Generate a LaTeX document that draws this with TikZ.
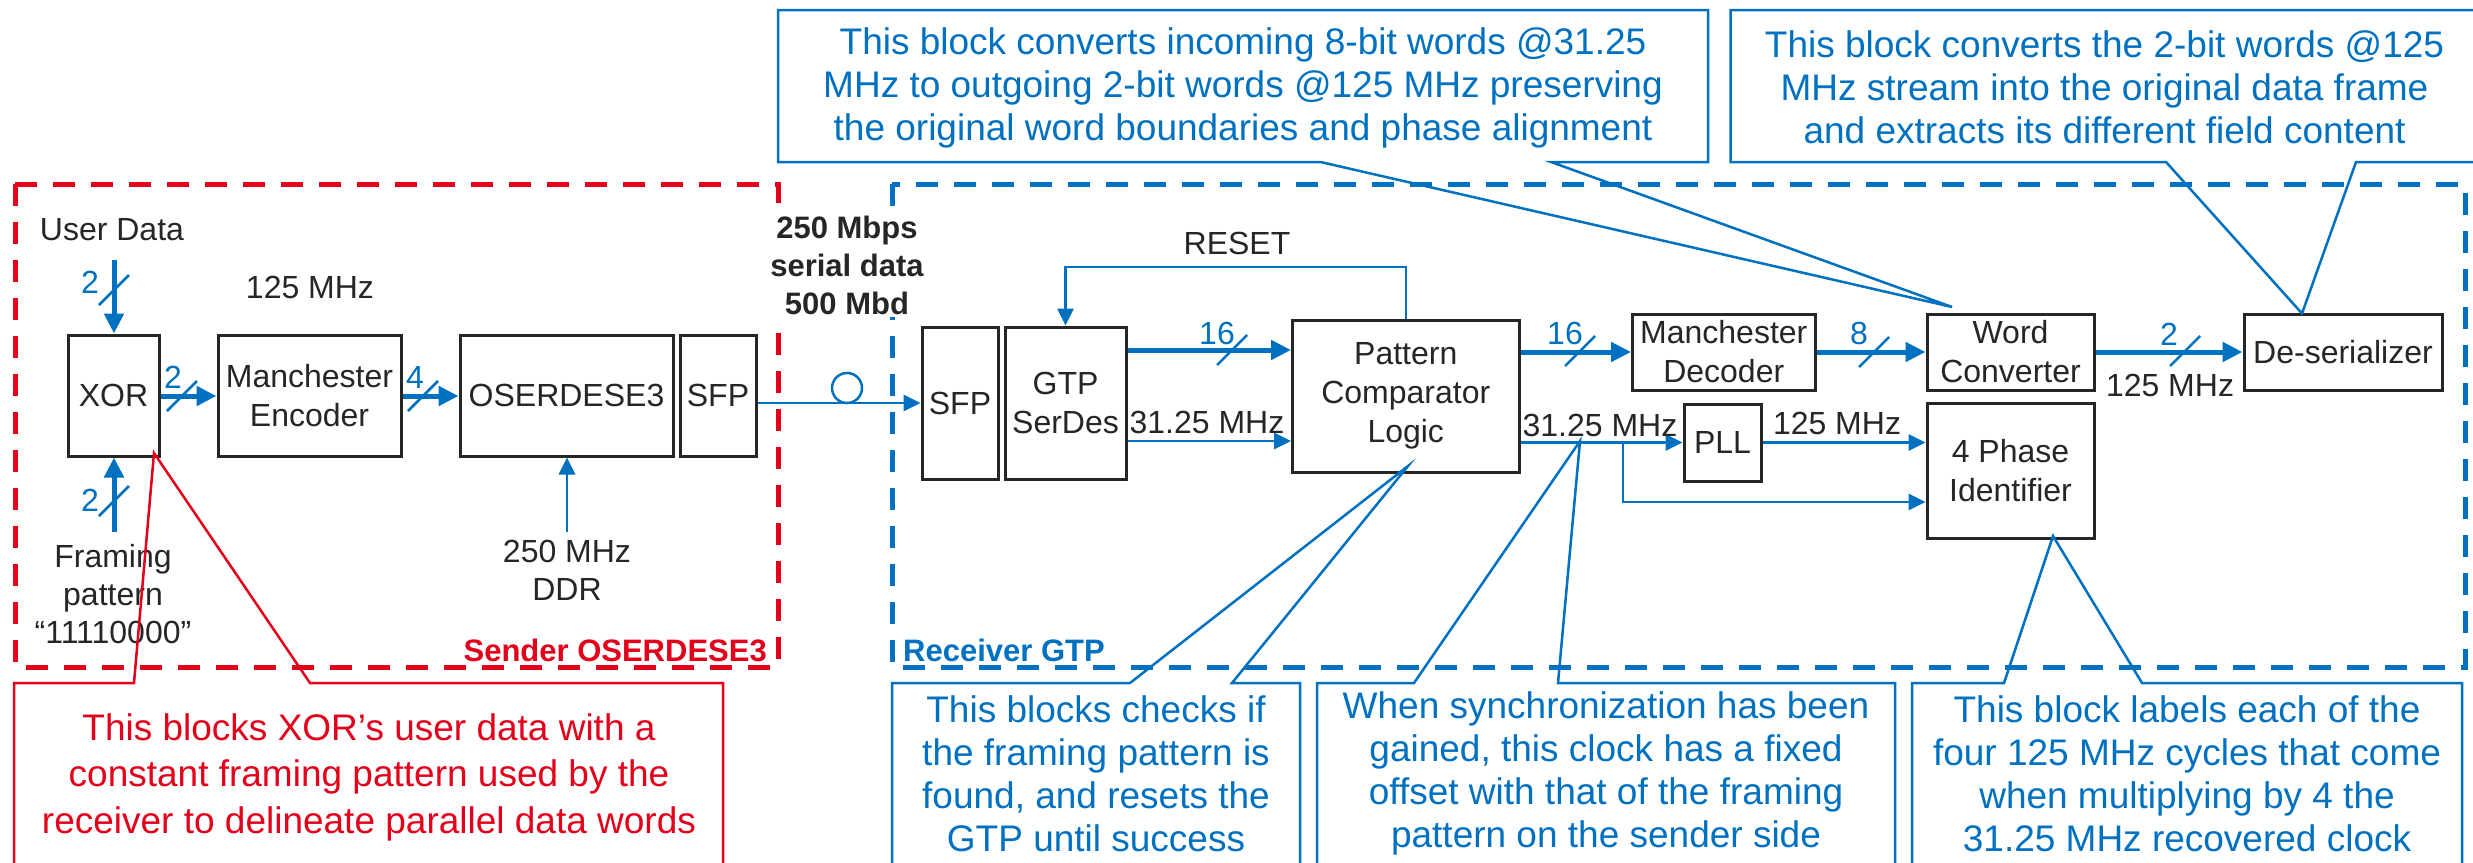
\documentclass[tikz,border=0pt]{standalone}
\usepackage{fontspec}
\setmainfont{Liberation Sans}
\usetikzlibrary{arrows.meta}
\definecolor{myblue}{RGB}{0,112,192}
\definecolor{myred}{RGB}{226,0,26}
\definecolor{dark}{RGB}{38,38,38}
\tikzset{
  box/.style={draw=dark, line width=3pt, inner sep=0pt, align=center, text=dark, font=\fontsize{32}{39}\selectfont},
  lbl/.style={align=center, inner sep=0pt, text=dark, font=\fontsize{32}{38}\selectfont},
  boldlbl/.style={align=center, inner sep=0pt, font=\fontsize{31}{38}\selectfont\bfseries},
  buslbl/.style={inner sep=0pt, text=myblue, font=\fontsize{32}{38}\selectfont},
  bus/.style={draw=myblue, line width=5pt, -{Triangle[length=20pt,width=19pt]}},
  sig/.style={draw=myblue, line width=2.7pt, -{Triangle[length=17pt,width=16pt]}},
  slashmark/.style={draw=myblue, line width=2.5pt},
  callout/.style={line width=2.5pt, line join=miter},
  calltext/.style={align=center, inner sep=0pt, font=\fontsize{37}{43}\selectfont},
  frame/.style={line width=5pt, dash pattern=on 22pt off 16pt}
}
\begin{document}
\begin{tikzpicture}[x=1pt,y=-1pt]
\useasboundingbox (0,0) rectangle (2473,862);
\clip (0,0) rectangle (2473,862);
\fill[white] (0,0) rectangle (2473,862);

% dashed frames
\draw[frame, draw=myred] (15,184) rectangle (778,667);
\draw[frame, draw=myblue] (892,184) rectangle (2465,667);

% boxes
\node[box, minimum width=91pt, minimum height=121pt] (xor) at (113.5,395.5) {XOR};
\node[box, minimum width=183pt, minimum height=121pt] (menc) at (309.5,395.5) {Manchester\\Encoder};
\node[box, minimum width=213pt, minimum height=121pt] (oser) at (566.5,395.5) {OSERDESE3};
\node[box, minimum width=76pt, minimum height=121pt] (sfpa) at (718,395.5) {SFP};
\node[box, minimum width=76pt, minimum height=152pt] (sfpb) at (960,403) {SFP};
\node[box, minimum width=121pt, minimum height=152pt] (gtp) at (1065.5,403) {GTP\\SerDes};
\node[box, minimum width=226.5pt, minimum height=152pt] (pcl) at (1405.75,396) {Pattern\\Comparator\\Logic};
\node[box, minimum width=182.5pt, minimum height=76pt] (mdec) at (1723.75,352) {Manchester\\Decoder};
\node[box, minimum width=167pt, minimum height=76pt] (wc) at (2010.5,352) {Word\\Converter};
\node[box, minimum width=198pt, minimum height=76pt] (ds) at (2343,352) {De-serializer};
\node[box, minimum width=77pt, minimum height=77pt] (pll) at (1722.5,442.5) {PLL};
\node[box, minimum width=167pt, minimum height=135.5pt] (phid) at (2010.5,471) {4 Phase\\Identifier};

% free ends and helper coordinates
\coordinate (ud) at (114,260);
\coordinate (fp) at (114,532);
\coordinate (ddr) at (567,532);
\coordinate (yA) at (0,350);
\coordinate (yB) at (0,441);
\coordinate (yC) at (0,502);
\coordinate (rx) at (1406,0);
\coordinate (ry) at (0,267);
\coordinate (br) at (1623,442.5);

% sender connectors
\draw[bus] (ud) -- (ud |- xor.north);
\draw[bus] (fp) -- (fp |- xor.south);
\draw[bus] (xor.east |- 0,396) -- (menc.west |- 0,396);
\draw[bus] (menc.east |- 0,396) -- (oser.west |- 0,396);
\draw[sig] (ddr) -- (ddr |- oser.south);
\draw[sig] (sfpa.east |- sfpb.west) -- (sfpb.west);
\node[draw=myblue, circle, line width=2.5pt, minimum size=30pt, inner sep=0pt] (fiber) at (847,388) {};

% receiver connectors
\draw[bus] (gtp.east |- yA) -- (pcl.west |- yA);
\draw[sig] (gtp.east |- yB) -- (pcl.west |- yB);
\draw[sig] (pcl.north -| rx) -- (rx |- ry) -- (gtp.north |- ry) -- (gtp.north);
\draw[bus] (pcl.east |- mdec.west) -- (mdec.west);
\draw[bus] (mdec.east) -- (wc.west);
\draw[bus] (wc.east) -- (ds.west);
\draw[sig] (pcl.east |- pll.west) -- (pll.west);
\draw[sig] (pll.east) -- (phid.west |- pll.east);
\draw[sig] (br) -- (br |- yC) -- (phid.west |- yC);

% bus slash marks
\foreach \cx/\cy in {114/290, 114/501, 182/396, 423/396, 1232/350, 1580/351, 1874/352, 2185/351}
  \draw[slashmark] (\cx-15,\cy+15) -- (\cx+15,\cy-15);

% bus width labels
\node[buslbl] (w1) at (90,282) {2};
\node[buslbl] (w2) at (90,500) {2};
\node[buslbl] (w3) at (173,377) {2};
\node[buslbl] (w4) at (415,377) {4};
\node[buslbl] (w5) at (1217,333) {16};
\node[buslbl] (w6) at (1565,333) {16};
\node[buslbl] (w7) at (1859,333) {8};
\node[buslbl] (w8) at (2169,334) {2};

% black labels
\node[lbl] (tud) at (112,230) {User Data};
\node[lbl] (t125a) at (310,287) {125 MHz};
\node[lbl] (tfp) at (113,594) {Framing\\pattern\\“11110000”};
\node[lbl] (tddr) at (567,570) {250 MHz\\DDR};
\node[boldlbl, text=dark, fill=white, inner sep=3pt] (tser) at (847,265) {250 Mbps\\serial data\\500 Mbd};
\node[lbl] (treset) at (1237,243) {RESET};
\node[lbl] (tclk1) at (1207,422) {31.25 MHz};
\node[lbl] (tclk2) at (1600,425) {31.25 MHz};
\node[lbl] (tclk3) at (1837,423) {125 MHz};
\node[lbl] (tclk4) at (2170,385) {125 MHz};
\node[boldlbl, text=myred, anchor=east] (tsend) at (767,650) {Sender OSERDESE3};
\node[boldlbl, text=myblue, anchor=west] (trecv) at (903,650) {Receiver GTP};

% callouts
\draw[callout, draw=myblue] (1320.5,162) -- (778,162) -- (778,10) -- (1708,10) -- (1708,162) -- (1551,162) -- (1952,307) -- cycle;
\node[calltext, text=myblue] (c1) at (1243,87.5) {This block converts incoming 8-bit words @31.25\\MHz to outgoing 2-bit words @125 MHz preserving\\the original word boundaries and phase alignment};

\draw[callout, draw=myblue] (2490,10) -- (1730.6,10) -- (1730.6,162) -- (2166,162) -- (2302,313.5) -- (2356,162) -- (2490,162);
\node[calltext, text=myblue] (c2) at (2104.5,87.5) {This block converts the 2-bit words @125\\MHz stream into the original data frame\\and extracts its different field content};

\draw[callout, draw=myred] (14,900) -- (14,683) -- (134,683) -- (154,453) -- (310,683) -- (723,683) -- (723,900);
\node[calltext, text=myred, font=\fontsize{37}{46.5}\selectfont] (c3) at (369,777) {This blocks XOR’s user data with a\\constant framing pattern used by the\\receiver to delineate parallel data words};

\draw[callout, draw=myblue] (892,900) -- (892,683) -- (1130,683) -- (1408,466) -- (1232,683) -- (1300,683) -- (1300,900);
\node[calltext, text=myblue] (c4) at (1096,773.5) {This blocks checks if\\the framing pattern is\\found, and resets the\\GTP until success};

\draw[callout, draw=myblue] (1317,900) -- (1317,683) -- (1414,683) -- (1580,441) -- (1558,683) -- (1895,683) -- (1895,900);
\node[calltext, text=myblue] (c5) at (1606,773.5) {When synchronization has been\\gained, this clock has a fixed\\offset with that of the framing\\pattern on the sender side};

\draw[callout, draw=myblue] (1912,900) -- (1912,683) -- (2004,683) -- (2053,536) -- (2142,683) -- (2462,683) -- (2462,900);
\node[calltext, text=myblue] (c6) at (2187,773.5) {This block labels each of the\\four 125 MHz cycles that come\\when multiplying by 4 the\\31.25 MHz recovered clock};
\end{tikzpicture}
\end{document}
